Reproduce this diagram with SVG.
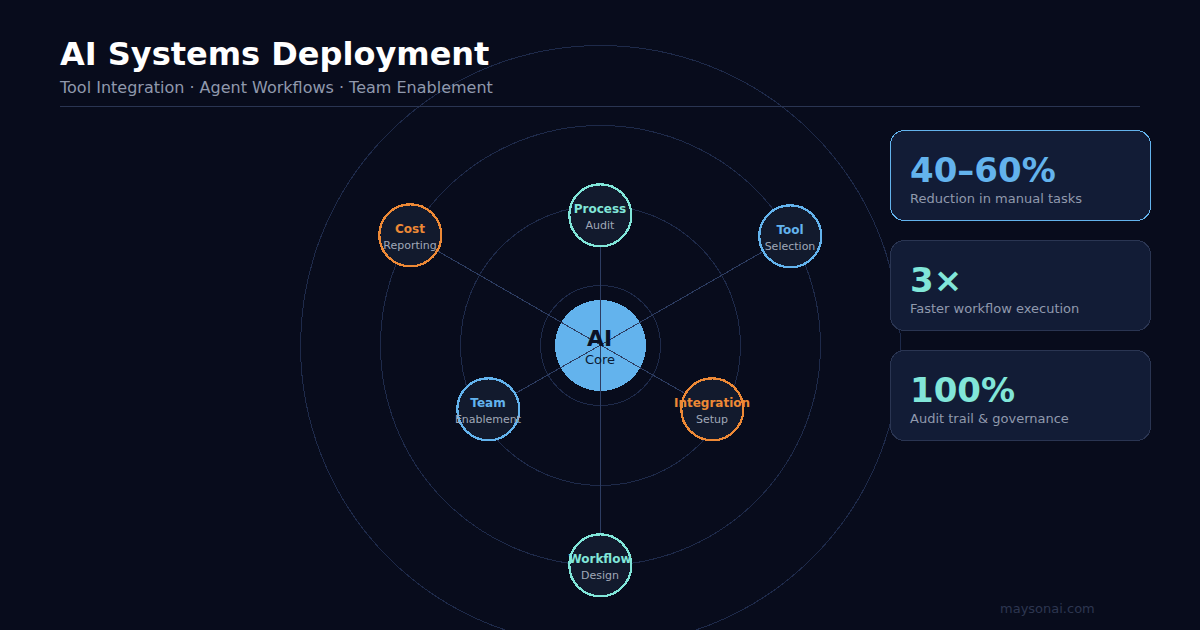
<svg xmlns="http://www.w3.org/2000/svg" width="1200" height="630" viewBox="0 0 1200 630" shape-rendering="crispEdges">
<style>
text{font-family:"DejaVu Sans",sans-serif}
.ring{fill:none;stroke:#1e2a4a;stroke-width:1}
.conn{stroke:#2d3d62;stroke-width:1}
.n{fill:#121a2d;stroke-width:2.3}
.t{font-size:12px;font-weight:700;text-anchor:middle}
.s{font-size:11px;fill:#a0a8b8;text-anchor:middle}
.card{fill:#121c36;stroke:#2a3552;stroke-width:1}
.v{font-size:34px;font-weight:700}
.d{font-size:13px;fill:#9099ad}
.blue{fill:#63b3ed}.teal{fill:#81e6d9}.orange{fill:#ed8936}
</style>
<rect width="1200" height="630" fill="#080c1c"/>
<g opacity="0.999">
<g id="rings">
<circle class="ring" cx="600.5" cy="345.5" r="60"/>
<circle class="ring" cx="600.5" cy="345.5" r="140"/>
<circle class="ring" cx="600.5" cy="345.5" r="220"/>
<circle class="ring" cx="600.5" cy="345.5" r="300"/>
</g>
<g id="core-disc"><circle cx="600.5" cy="345.5" r="45.5" fill="#63b3ed"/></g>
<g id="connectors">
<line class="conn" x1="600.5" y1="345" x2="600.5" y2="215"/>
<line class="conn" x1="600.5" y1="345" x2="790" y2="236"/>
<line class="conn" x1="600.5" y1="345" x2="712" y2="409"/>
<line class="conn" x1="600.5" y1="345" x2="600.5" y2="565"/>
<line class="conn" x1="600.5" y1="345" x2="488" y2="409"/>
<line class="conn" x1="600.5" y1="345" x2="410" y2="235"/>
</g>
<g id="core">
<text x="599.5" y="346" text-anchor="middle" font-size="22" font-weight="700" fill="#0a1226">AI</text>
<text x="600" y="364" text-anchor="middle" font-size="13" fill="#0a1a33">Core</text>
</g>
<g id="node-process"><circle class="n" cx="600.3" cy="215.3" r="31" stroke="#81e6d9"/><text class="t teal" x="600" y="213">Process</text><text class="s" x="600" y="229">Audit</text></g>
<g id="node-tool"><circle class="n" cx="790.3" cy="236.3" r="31" stroke="#63b3ed"/><text class="t blue" x="790" y="234">Tool</text><text class="s" x="790" y="250">Selection</text></g>
<g id="node-integration"><circle class="n" cx="712.3" cy="409.3" r="31" stroke="#ed8936"/><text class="t orange" x="712" y="407">Integration</text><text class="s" x="712" y="423">Setup</text></g>
<g id="node-workflow"><circle class="n" cx="600.3" cy="565.3" r="31" stroke="#81e6d9"/><text class="t teal" x="600" y="563">Workflow</text><text class="s" x="600" y="579">Design</text></g>
<g id="node-team"><circle class="n" cx="488.3" cy="409.3" r="31" stroke="#63b3ed"/><text class="t blue" x="488" y="407">Team</text><text class="s" x="488" y="423">Enablement</text></g>
<g id="node-cost"><circle class="n" cx="410.3" cy="235.3" r="31" stroke="#ed8936"/><text class="t orange" x="410" y="233">Cost</text><text class="s" x="410" y="249">Reporting</text></g>
<g id="header">
<text x="60" y="65" font-size="32" font-weight="700" fill="#fff">AI Systems Deployment</text>
<text x="60" y="93" font-size="16" fill="#9099ad">Tool Integration · Agent Workflows · Team Enablement</text>
<line x1="60" y1="106.5" x2="1140" y2="106.5" stroke="#2a3552"/>
</g>
<g id="card-1"><rect class="card" x="890.5" y="130.5" width="260" height="90" rx="14" style="stroke:#63b3ed"/><text class="v blue" x="910" y="182">40–60%</text><text class="d" x="910" y="203">Reduction in manual tasks</text></g>
<g id="card-2"><rect class="card" x="890.5" y="240.5" width="260" height="90" rx="14"/><text class="v teal" x="910" y="292">3×</text><text class="d" x="910" y="313">Faster workflow execution</text></g>
<g id="card-3"><rect class="card" x="890.5" y="350.5" width="260" height="90" rx="14"/><text class="v teal" x="910" y="402">100%</text><text class="d" x="910" y="423">Audit trail &amp; governance</text></g>
<text x="1000" y="613" font-size="13" fill="#2d3650">maysonai.com</text>
</g>
</svg>
